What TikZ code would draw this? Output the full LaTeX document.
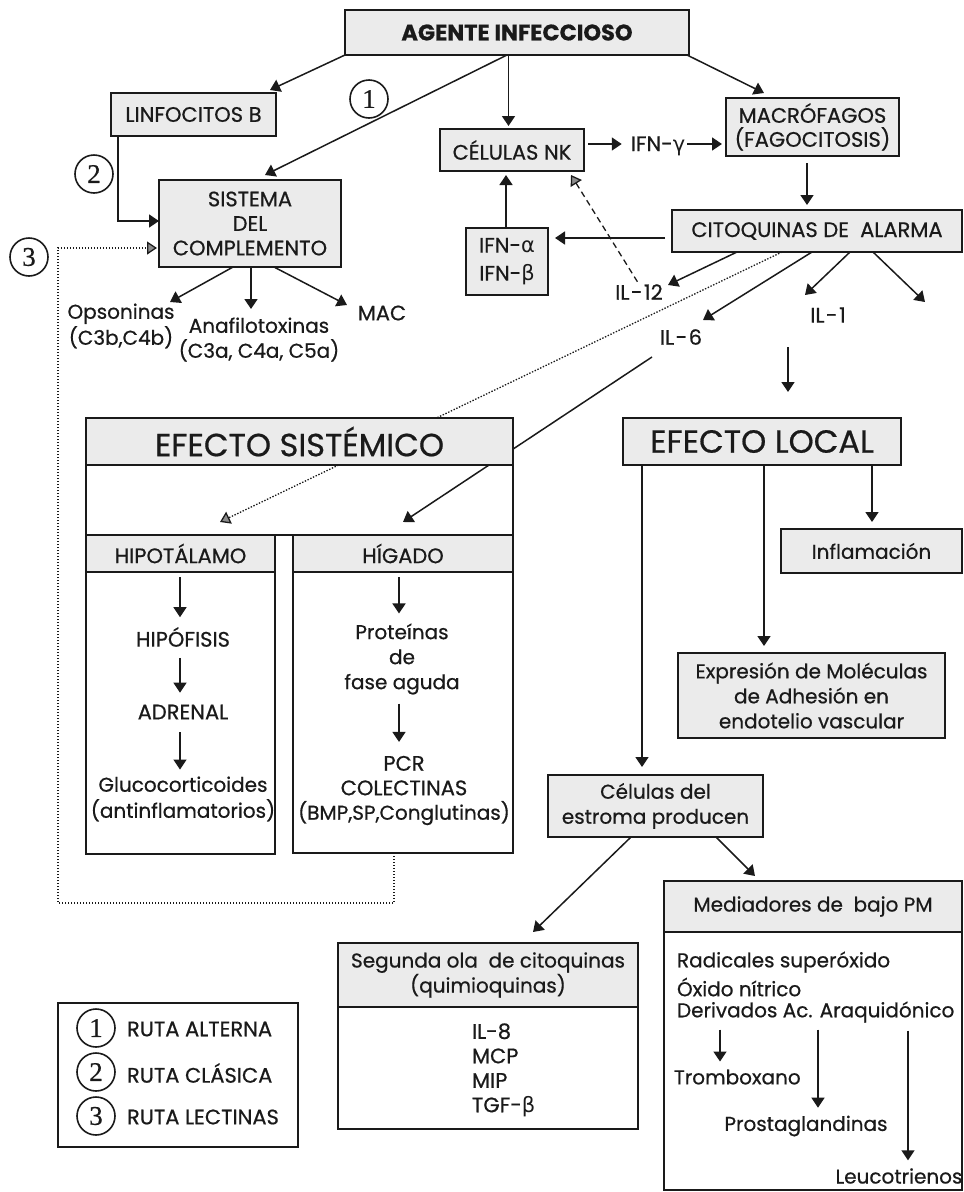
\documentclass[tikz,border=0pt]{standalone}
\usepackage{fontspec}
\setmainfont{Poppins}[RawFeature={embolden=0.6}]
\newfontfamily\grk{DejaVu Sans}
\newfontfamily\numfont{Liberation Serif}[RawFeature={embolden=0.6}]
\usetikzlibrary{arrows.meta,calc}
\definecolor{ink}{HTML}{1A1A1A}
\definecolor{boxgray}{HTML}{EBEBEB}
\definecolor{tipgray}{HTML}{8C8C8C}
\newcommand\fsz[2]{\fontsize{#1}{#2}\selectfont}
\newcommand\ilab[2]{#1\kern1.5pt-\kern1.5pt#2}

\begin{document}
\begin{tikzpicture}[x=1pt,y=-1pt,
  box/.style={draw=ink, fill=boxgray, line width=1.7pt, inner sep=0pt, outer sep=0pt,
              align=center, text=ink, font=\fsz{21}{24.5}},
  body/.style={draw=ink, fill=white, line width=1.7pt, inner sep=0pt, outer sep=0pt},
  lbl/.style={inner sep=0pt, outer sep=0pt, text=ink, align=center, font=\fsz{20}{25}},
  caps/.style={lbl, font=\fsz{21}{24.5}},
  title/.style={box, font=\fsz{32}{34}},
  num/.style={draw=ink, circle, line width=1.6pt, minimum size=38pt, inner sep=0pt,
              text=ink, font=\numfont\fsz{27}{27}},
  arr/.style={draw=ink, line width=1.5pt, -{Triangle[width=13pt,length=10pt]}},
  dotarr/.style={draw=ink, line width=1.3pt, dash pattern=on 1.4pt off 1.6pt,
                 -{Triangle[width=13pt,length=10pt,fill=tipgray]}},
  dasharr/.style={draw=ink, line width=1.3pt, dash pattern=on 6pt off 4pt,
                  -{Triangle[width=13pt,length=10pt,fill=tipgray]}},
]
\useasboundingbox (0,0) rectangle (964,1192);

% ---------- upper part ----------
\node[box, line width=2.6pt, minimum width=344, minimum height=45,
      font=\bfseries\fsz{22.5}{24}] (agente) at (517,32.5) {AGENTE INFECCIOSO};
\node[box, minimum width=165, minimum height=43] (linf) at (193.5,114.5) {LINFOCITOS B};
\node[box, minimum width=182, minimum height=87] (sist) at (250,223.5) {SISTEMA\\DEL\\COMPLEMENTO};
\node[box, minimum width=144, minimum height=42] (nk) at (512,150) {CÉLULAS NK};
\node[caps] (ifng) at (658,146) {IFN-{\grk γ}};
\node[box, minimum width=173, minimum height=58, font=\fsz{21}{24}] (macro) at (812.5,127) {MACRÓFAGOS\\(FAGOCITOSIS)};
\node[box, minimum width=290, minimum height=42] (cit) at (817,231) {CITOQUINAS DE\ \ ALARMA};
\node[box, minimum width=82, minimum height=67, font=\fsz{21}{28}] (ifnab) at (507,261.5) {IFN-{\grk α}\\IFN-{\grk β}};
\node[caps] (il12) at (639,292) {\ilab{IL}{12}};
\node[caps] (il6) at (681,337) {\ilab{IL}{6}};
\node[caps] (il1) at (828,315) {\ilab{IL}{1}};
\coordinate (ilx) at (925,302);

\node[num] (c1) at (369,99) {1};
\node[num] (c2) at (94,174) {2};
\node[num] (c3) at (29,257) {3};

\node[lbl, font=\fsz{20}{26}] (opso) at (121,326) {Opsoninas\\(C3b,C4b)};
\node[lbl] (anaf) at (259,339.5) {Anafilotoxinas\\(C3a, C4a, C5a)};
\node[caps] (mac) at (382,313) {MAC};

% ---------- systemic effect ----------
\node[body, minimum width=427, minimum height=117] (esframe) at (299.5,476.5) {};
\node[body, minimum width=189, minimum height=319] (hip) at (180.5,694.5) {};
\node[box, minimum width=189, minimum height=37] (hiphead) at (180.5,553.5) {HIPOTÁLAMO};
\node[body, minimum width=220, minimum height=318] (hig) at (403,694) {};
\node[box, minimum width=220, minimum height=37] (higead) at (403,553.5) {HÍGADO};

\node[caps] (hipof) at (183,637) {HIPÓFISIS};
\node[caps] (adren) at (183,712) {ADRENAL};
\node[lbl, font=\fsz{20}{26}] (gluco) at (183,799) {Glucocorticoides\\(antinflamatorios)};
\node[lbl] (prot) at (402,659) {Proteínas\\de\\fase aguda};
\node[lbl, font=\fsz{20}{24.5}] (pcr) at (404,790.5) {{\fsz{21}{24.5}PCR}\\{\fsz{21}{24.5}COLECTINAS}\\(BMP,SP,Conglutinas)};

% ---------- local effect ----------
\node[title, minimum width=278, minimum height=47] (elocal) at (762,441.5) {EFECTO LOCAL};
\node[box, minimum width=181, minimum height=44, font=\fsz{20}{25}] (infl) at (871.5,551) {Inflamación};
\node[box, minimum width=267, minimum height=85, font=\fsz{20}{25}] (expr) at (811.5,695.5)
  {Expresión de Moléculas\\de Adhesión en\\endotelio vascular};
\node[box, minimum width=215, minimum height=62, font=\fsz{20}{25}] (celest) at (655.5,806)
  {Células del\\estroma producen};

\node[body, minimum width=300, minimum height=186] (seg) at (488,1036) {};
\node[box, minimum width=300, minimum height=64, font=\fsz{20}{25}] (seghead) at (488,975)
  {Segunda ola\ \ de citoquinas\\(quimioquinas)};
\node[lbl, align=left, anchor=west, font=\fsz{21}{24.5}] (seglist) at (472,1070)
  {IL-8\\MCP\\MIP\\TGF-{\grk β}};

\node[body, minimum width=298, minimum height=309] (med) at (813,1035.5) {};
\node[box, minimum width=298, minimum height=51, font=\fsz{20}{25}] (medhead) at (813,906.5) {Mediadores de\ \ bajo PM};
\node[lbl, anchor=west] (radic) at (677,962) {Radicales superóxido};
\node[lbl, anchor=west] (oxido) at (677,987) {Óxido nítrico};
\node[lbl, anchor=west] (deriv) at (677,1012) {Derivados Ac. Araquidónico};
\node[lbl, anchor=west] (trombo) at (674,1077) {Tromboxano};
\node[lbl] (prosta) at (806,1126) {Prostaglandinas};
\node[lbl] (leuco) at (899,1176) {Leucotrienos};

% ---------- legend ----------
\node[body, minimum width=240, minimum height=144] (legend) at (178,1075) {};
\node[num] (l1) at (96,1028) {1};
\node[num] (l2) at (96,1072) {2};
\node[num] (l3) at (96,1116) {3};
\node[caps, anchor=west] (t1) at (127,1029) {RUTA ALTERNA};
\node[caps, anchor=west] (t2) at (127,1073) {RUTA CLÁSICA};
\node[caps, anchor=west] (t3) at (127,1117) {RUTA LECTINAS};

% ---------- connectors: top ----------
\draw[arr] (agente.south west) -- ([xshift=-6pt,yshift=3pt]linf.north east);
\draw[arr] ([xshift=-10pt]agente.south) -- ([xshift=15pt,yshift=5pt]sist.north);
\draw[arr] ([xshift=-8.5pt]agente.south) -- ([xshift=-3.5pt,yshift=3pt]nk.north);
\draw[arr] ([xshift=-2pt]agente.south east) -- ([xshift=38pt,yshift=5pt]macro.north west);
\draw[arr, shorten <=4pt, shorten >=9pt] ([yshift=6pt]nk.east) -- ([yshift=6pt]nk.east -| ifng.west);
\draw[arr, shorten <=2pt, shorten >=4pt] ([yshift=6pt]nk.east -| ifng.east) -- ([yshift=6pt]nk.east -| macro.west);
\draw[arr, shorten <=7pt, shorten >=5pt] ([xshift=-5.5pt]macro.south) -- ([xshift=-5.5pt]macro.south |- cit.north);
\draw[arr, shorten <=7pt, shorten >=7pt] ([yshift=-7pt]cit.west) -- ([yshift=-7pt]cit.west -| ifnab.east);
\draw[arr, shorten >=4pt] ([xshift=-1pt]ifnab.north) -- ([xshift=-1pt]ifnab.north |- nk.south);
\draw[dasharr, shorten <=3pt] (il12.north) -- ([xshift=-13pt,yshift=-4pt]nk.south east);

\draw[arr] ([xshift=65pt]cit.south west) -- ([shift={(29pt,7pt)}]il12.center);
\draw[arr] ([xshift=140pt]cit.south west) -- ([shift={(22pt,17pt)}]il6.center);
\draw[arr] ([xshift=178pt]cit.south west) -- ([shift={(-23pt,20pt)}]il1.center);
\draw[arr] ([xshift=201pt]cit.south west) -- (ilx);

% complement pathways
\draw[arr] ([xshift=7pt]linf.south west) |- ([yshift=2.5pt]sist.west);
\coordinate (lcorner) at (58,903);
\draw[dotarr] ([xshift=-9pt]hig.south) |- (lcorner) |- ([yshift=-24.5pt,xshift=-2pt]sist.west);
\draw[arr] ([xshift=-17pt]sist.south) -- ([shift={(49pt,24pt)}]opso.center);
\draw[arr] ([xshift=1pt]sist.south) -- ([shift={(-8pt,30.5pt)}]anaf.center);
\draw[arr] ([xshift=24pt]sist.south) -- ([shift={(-35pt,8pt)}]mac.center);

% routes into the systemic effect (pass behind its title band)
\draw[dotarr] ([xshift=110pt]cit.south west) -- ([xshift=39.5pt,yshift=13pt]hip.north);
\draw[arr] ([shift={(-29pt,-20pt)}]il6.center) -- ([yshift=13pt]hig.north);
\node[title, minimum width=427, minimum height=47] (esist) at (299.5,441.5) {EFECTO SISTÉMICO};

% systemic chains
\draw[arr, shorten <=5pt, shorten >=10pt] ([xshift=-0.5pt]hiphead.south) -- ([xshift=-0.5pt]hiphead.south |- hipof.north);
\draw[arr, shorten <=11pt, shorten >=12pt] ([xshift=-3pt]hipof.south) -- ([xshift=-3pt]hipof.south |- adren.north);
\draw[arr, shorten <=13pt, shorten >=7pt] ([xshift=-3pt]adren.south) -- ([xshift=-3pt]adren.south |- gluco.north);
\draw[arr, shorten <=5pt, shorten >=10pt] ([xshift=-4pt]higead.south) -- ([xshift=-4pt]higead.south |- prot.north);
\draw[arr, shorten <=9pt, shorten >=14pt] ([xshift=-3pt]prot.south) -- ([xshift=-3pt]prot.south |- pcr.north);

% local effect
\coordinate (locin) at (788,347);
\draw[arr, shorten >=26pt] (locin) -- (locin |- elocal.north);
\draw[arr, shorten >=8pt] ([xshift=19pt]elocal.south west) -- ([xshift=19pt]elocal.south west |- celest.north);
\draw[arr, shorten >=7pt] ([xshift=2pt]elocal.south) -- ([xshift=2pt]elocal.south |- expr.north);
\draw[arr, shorten >=7pt] ([xshift=-29pt]elocal.south east) -- ([xshift=-29pt]elocal.south east |- infl.north);
\draw[arr] ([xshift=83pt]celest.south west) -- ([shift={(45pt,11pt)}]seghead.north);
\draw[arr] ([xshift=168pt]celest.south west) -- ([shift={(91pt,5pt)}]medhead.north west);

% arachidonic derivatives
\draw[arr, shorten <=7pt, shorten >=8pt] ([xshift=43pt]deriv.south west) -- ([xshift=43pt]deriv.south west |- trombo.north);
\draw[arr, shorten <=7pt, shorten >=8pt] ([xshift=141pt]deriv.south west) -- ([xshift=141pt]deriv.south west |- prosta.north);
\draw[arr, shorten <=8pt, shorten >=8pt] ([xshift=231pt]deriv.south west) -- ([xshift=231pt]deriv.south west |- leuco.north);
\end{tikzpicture}
\end{document}
